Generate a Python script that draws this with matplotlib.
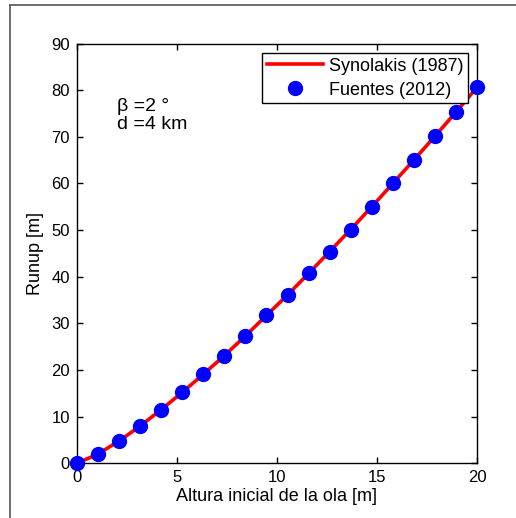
import matplotlib
matplotlib.use('Agg')
import matplotlib.pyplot as plt
from matplotlib.lines import Line2D

plt.rcParams['font.family'] = ['Liberation Sans', 'DejaVu Sans']

# initial wave height [m] and runup [m]
altura = [0.0, 1.05, 2.11, 3.16, 4.21, 5.26, 6.32, 7.37, 8.42, 9.47,
          10.53, 11.58, 12.63, 13.68, 14.74, 15.79, 16.84, 17.89, 18.95, 20.0]
runup_syn = [0.0, 2.0, 4.8, 8.0, 11.5, 15.2, 19.1, 23.1, 27.3, 31.7,
             36.1, 40.7, 45.4, 50.1, 55.0, 60.0, 65.0, 70.1, 75.3, 80.6]
runup_fue = [0.0, 2.0, 4.8, 8.0, 11.5, 15.2, 19.1, 23.1, 27.3, 31.7,
             36.1, 40.7, 45.4, 50.1, 55.0, 60.0, 65.0, 70.1, 75.3, 80.6]
xticks = [0, 5, 10, 15, 20]
yticks = [0, 10, 20, 30, 40, 50, 60, 70, 80, 90]

fig = plt.figure(figsize=(5.16, 5.18), dpi=100)
ax = fig.add_axes([0.1492, 0.1056, 0.7752, 0.8104])

ax.plot(altura, runup_syn, color='red', lw=2.6, label='Synolakis (1987)', zorder=2)
ax.plot(altura, runup_fue, 'o', color='blue', ms=10, mec='blue',
        label='Fuentes (2012)', clip_on=False, zorder=3)

ax.set_xlim(0, 20)
ax.set_ylim(0, 90)
ax.set_xticks(xticks)
ax.set_yticks(yticks)
ax.tick_params(direction='in', length=4, width=1, top=True, right=True,
               labelsize=12, pad=5)
for s in ax.spines.values():
    s.set_linewidth(1.0)

ax.set_xlabel('Altura inicial de la ola [m]', fontsize=13, labelpad=2)
ax.set_ylabel('Runup [m]', fontsize=13, labelpad=5)

ax.text(2.0, 75.6, 'β =2 °', fontsize=14)
ax.text(2.0, 71.7, 'd =4 km', fontsize=14)

leg = ax.legend(loc='upper right', bbox_to_anchor=(468 / 516, 1 - 53 / 518),
                bbox_transform=fig.transFigure, borderaxespad=0,
                fontsize=13, handlelength=3.1, labelspacing=0.4,
                handletextpad=0.35, borderpad=0.25, fancybox=False,
                framealpha=1, edgecolor='black')
leg.get_frame().set_linewidth(1.0)

# grey frame of the original figure window
fig.add_artist(Line2D([10 / 516, 1], [1 - 5 / 518, 1 - 5 / 518],
                      transform=fig.transFigure, color='#555555', lw=1.2))
fig.add_artist(Line2D([10 / 516, 10 / 516], [0, 1 - 5 / 518],
                      transform=fig.transFigure, color='#555555', lw=1.2))

fig.savefig('out.png', dpi=100)
